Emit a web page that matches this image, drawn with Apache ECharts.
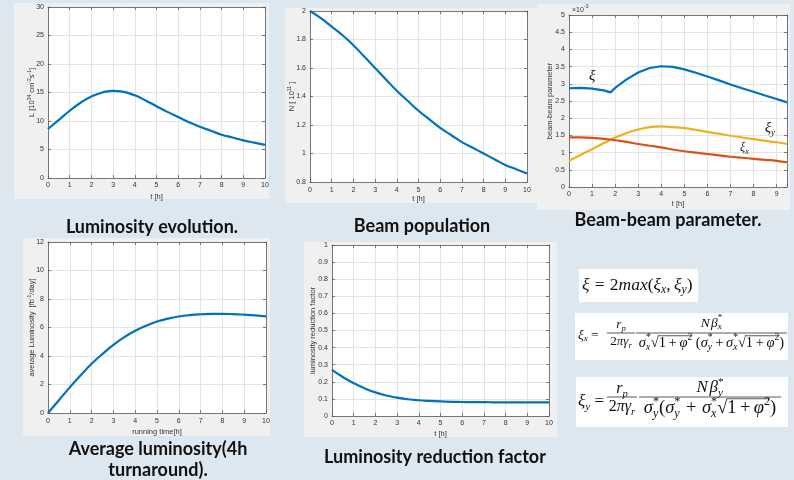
<!DOCTYPE html>
<html><head><meta charset="utf-8">
<script src="https://cdn.jsdelivr.net/npm/echarts@6/dist/echarts.min.js"></script>
<style>html,body{margin:0;padding:0;background:#dde7ef}#c{width:794px;height:480px}</style>
</head><body><div id="c"></div>
<script>
// ---------------- DATA ----------------
const tHours = [0,0.5,1,1.5,2,2.5,3,3.5,4,4.5,5,5.5,6,6.5,7,7.5,8,8.5,9,9.5,10];
const lumValues = [8.6,10.2,11.8,13.2,14.3,15.0,15.3,15.1,14.5,13.6,12.6,11.6,10.7,9.8,9.0,8.3,7.6,7.1,6.6,6.2,5.8];
const beamPopulation = [2.0,1.95,1.89,1.83,1.76,1.68,1.60,1.52,1.44,1.37,1.30,1.24,1.18,1.13,1.08,1.04,1.00,0.96,0.92,0.89,0.86];
const tBeamBeam = [0,0.5,1,1.5,1.8,2,2.5,3,3.5,4,4.5,5,5.5,6,6.5,7,7.5,8,8.5,9,9.45];
const xiTotal = [2.87,2.88,2.86,2.81,2.75,2.88,3.13,3.33,3.46,3.51,3.49,3.42,3.32,3.21,3.10,2.98,2.87,2.77,2.66,2.56,2.46];
const xiX = [1.44,1.44,1.43,1.40,1.38,1.36,1.31,1.25,1.20,1.15,1.09,1.04,1.00,0.96,0.92,0.88,0.85,0.82,0.79,0.76,0.72];
const xiY = [0.76,0.93,1.10,1.27,1.37,1.44,1.57,1.67,1.74,1.76,1.74,1.71,1.66,1.60,1.55,1.49,1.44,1.39,1.34,1.30,1.25];
const avgLum = [0,0.9,1.8,2.65,3.45,4.15,4.78,5.32,5.77,6.12,6.42,6.62,6.77,6.87,6.93,6.96,6.96,6.94,6.9,6.85,6.78];
const reduction = [0.27,0.228,0.192,0.162,0.138,0.12,0.107,0.098,0.092,0.088,0.085,0.083,0.082,0.081,0.081,0.080,0.080,0.080,0.080,0.080,0.080];

const titles = ['Luminosity evolution.','Beam population','Beam-beam parameter.','Average luminosity(4h','turnaround).','Luminosity reduction factor'];

// ---------------- HELPERS ----------------
const SANS = '"Liberation Sans", Arial, sans-serif';
const SERIF = '"Liberation Serif","DejaVu Serif",serif';
const BLUE = '#0072BD', RED = '#D95319', YEL = '#EDB120';
const TXT = '#333';
const mctx = document.createElement('canvas').getContext('2d');
function fnt(size, it){ return (it ? 'italic ' : '') + size.toFixed(2) + 'px ' + SERIF; }
function tw(t, size, it){ mctx.font = fnt(size, it); return mctx.measureText(t).width; }

function layoutTokens(tokens, size){
  const items = [], lines = []; let x = 0;
  for (const tk of tokens){
    if (tk.gap){ x += tk.gap*size; continue; }
    if (tk.sqrt){
      items.push({t:'√', x, dy:0, size, it:false}); x += tw('√', size, false);
      const inner = layoutTokens(tk.sqrt, size);
      inner.items.forEach(o => items.push(Object.assign({}, o, {x:o.x + x})));
      lines.push({x1:x - 0.6, x2:x + inner.width, dy:-size*0.5});
      x += inner.width; continue;
    }
    const it = !tk.n;
    if (tk.t){ items.push({t:tk.t, x, dy:0, size, it}); x += tw(tk.t, size, it); }
    let w = 0; const ss = size*0.66;
    if (tk.sup){ items.push({t:tk.sup, x, dy:-size*0.36, size:ss, it:false}); w = Math.max(w, tw(tk.sup, ss, false)); }
    if (tk.sub){ items.push({t:tk.sub, x, dy:size*0.3, size:ss, it:true}); w = Math.max(w, tw(tk.sub, ss, true)); }
    x += w;
  }
  return {items, lines, width:x};
}
function formula(tokens, size, x0, yMid, align){
  const L = layoutTokens(tokens, size);
  const off = align === 'center' ? x0 - L.width/2 : x0;
  const els = [];
  L.items.forEach(o => els.push({type:'text', z:30, style:{text:o.t, x:off+o.x, y:yMid+o.dy, font:fnt(o.size,o.it), fill:'#111', textAlign:'left', textVerticalAlign:'middle'}}));
  L.lines.forEach(l => els.push({type:'line', z:30, shape:{x1:off+l.x1, y1:yMid+l.dy, x2:off+l.x2, y2:yMid+l.dy}, style:{stroke:'#111', lineWidth:0.7}}));
  return els;
}
function frac(num, den, sizeN, sizeD, xL, xR, yBar, yNum, yDen){
  const c = (xL + xR)/2;
  return [].concat(
    formula(num, sizeN, c, yNum, 'center'),
    formula(den, sizeD, c, yDen, 'center'),
    [{type:'line', z:30, shape:{x1:xL, y1:yBar, x2:xR, y2:yBar}, style:{stroke:'#111', lineWidth:0.7}}]
  );
}

// grids: left, top, width, height
const grids = [
  {left:48, top:7, width:217, height:171},
  {left:310, top:11, width:217, height:171},
  {left:569, top:15, width:218, height:172},
  {left:48, top:242, width:218, height:171},
  {left:332, top:245, width:217, height:171}
];
const lineCol = '#5a5a5a';
const xAxes = [], yAxes = [];
function addX(gi, min, max, interval, name, gap, margin, fmt){
  const tick = {inside:true, length:3, lineStyle:{color:lineCol, width:0.8}};
  xAxes.push({type:'value', gridIndex:gi, min, max, interval, name, nameLocation:'middle', nameGap:gap,
    nameTextStyle:{fontSize:7.5, color:TXT, fontFamily:SANS},
    axisLine:{show:true, onZero:false, lineStyle:{color:lineCol, width:0.8}}, axisTick:tick,
    axisLabel:{fontSize:7, color:TXT, margin, fontFamily:SANS, formatter:fmt || (v => String(v))},
    splitLine:{show:true, lineStyle:{color:'#e4e4e4', width:1}}});
  xAxes.push({type:'value', gridIndex:gi, position:'top', min, max, interval,
    axisLine:{show:true, onZero:false, lineStyle:{color:lineCol, width:0.8}}, axisTick:tick,
    axisLabel:{show:false}, splitLine:{show:false}});
}
function addY(gi, min, max, interval, name, gap, fmt){
  const tick = {inside:true, length:3, lineStyle:{color:lineCol, width:0.8}};
  yAxes.push({type:'value', gridIndex:gi, min, max, interval, name, nameLocation:'middle', nameGap:gap, nameMoveOverlap:false,
    nameTextStyle:{fontSize:7.5, color:TXT, fontFamily:SANS, lineHeight:10,
      rich:{s:{fontSize:5, lineHeight:5, verticalAlign:'top', color:TXT, fontFamily:SANS}}},
    axisLine:{show:true, onZero:false, lineStyle:{color:lineCol, width:0.8}}, axisTick:tick,
    axisLabel:{fontSize:7, color:TXT, margin:4, fontFamily:SANS, formatter:fmt || (v => String(v))},
    splitLine:{show:true, lineStyle:{color:'#e4e4e4', width:1}}});
  yAxes.push({type:'value', gridIndex:gi, position:'right', min, max, interval,
    axisLine:{show:true, onZero:false, lineStyle:{color:lineCol, width:0.8}}, axisTick:tick,
    axisLabel:{show:false}, splitLine:{show:false}});
}
const r1 = v => String(Math.round(v*10)/10);
addX(0, 0, 10, 1, 't [h]', 15, 4); addY(0, 0, 30, 5, 'L [10{s|34} cm{s|-2}s{s|-1}]', 11);
addX(1, 0, 10, 1, 't [h]', 13, 5); addY(1, 0.8, 2, 0.2, 'N [ 10{s|11} ]', 13, r1);
addX(2, 0, 9.45, 1, 't [h]', 13, 4, v => Number.isInteger(v) ? String(v) : ''); addY(2, 0, 5, 0.5, 'beam-beam parameter', 14, r1);
addX(3, 0, 10, 1, 'running time[h]', 15, 5); addY(3, 0, 12, 2, 'average Luminosity  [fb{s|-1}/day]', 11);
addX(4, 0, 10, 1, 't [h]', 14, 4); addY(4, 0, 1, 0.1, 'luminosity reduction factor', 14, r1);

function ser(gi, xs, ys, color, smooth){
  return {type:'line', xAxisIndex:2*gi, yAxisIndex:2*gi, data:xs.map((t,i)=>[t, ys[i]]),
    showSymbol:false, smooth:smooth, lineStyle:{color, width:2.2}, itemStyle:{color}, z:5, silent:true};
}
const series = [
  ser(0, tHours, lumValues, BLUE, 0.5),
  ser(1, tHours, beamPopulation, BLUE, 0.5),
  ser(2, tBeamBeam, xiY, YEL, 0.5),
  ser(2, tBeamBeam, xiX, RED, 0.5),
  ser(2, tBeamBeam, xiTotal, BLUE, false),
  ser(3, tHours, avgLum, BLUE, 0.5),
  ser(4, tHours, reduction, BLUE, 0.5)
];

// ---------------- GRAPHICS ----------------
const G = [];
const panels = [[14,3,255,196],[285,8,253,195],[537,4,253,206],[23,238,247,198],[304,242,253,195]];
panels.forEach(p => G.push({type:'rect', z:-10, shape:{x:p[0], y:p[1], width:p[2], height:p[3]}, style:{fill:'#f0f0f0'}}));
const TF = 'bold 18px Lato, "Open Sans", sans-serif';
[[titles[0],152,227],[titles[1],422,226],[titles[2],668,220],[titles[3],158,449],[titles[4],158,470],[titles[5],435,457]]
  .forEach(a => G.push({type:'text', z:30, style:{text:a[0], x:a[1], y:a[2], font:TF, fill:'#111', textAlign:'center', textVerticalAlign:'middle'}}));

// x10^-3 multiplier
G.push({type:'text', z:30, style:{text:'×10', x:572, y:10, font:'7px '+SANS, fill:TXT, textAlign:'left', textVerticalAlign:'middle'}});
G.push({type:'text', z:30, style:{text:'-3', x:584, y:7, font:'5px '+SANS, fill:TXT, textAlign:'left', textVerticalAlign:'middle'}});
// curve annotations
G.push(...formula([{t:'ξ'}], 15, 589, 76, 'left'));
G.push(...formula([{t:'ξ', sub:'y'}], 14, 765, 128, 'left'));
G.push(...formula([{t:'ξ', sub:'x'}], 12, 740, 148, 'left'));

// formula boxes
[[579,269,119,33],[575,313,213,47],[576,377,212,50]].forEach(b =>
  G.push({type:'rect', z:20, shape:{x:b[0], y:b[1], width:b[2], height:b[3]}, style:{fill:'#fff'}}));

G.push(...formula([{t:'ξ'},{gap:0.3},{t:'=', n:1},{gap:0.3},{t:'2', n:1},{t:'max'},{t:'(', n:1},{t:'ξ', sub:'x'},{t:',', n:1},{gap:0.2},{t:'ξ', sub:'y'},{t:')', n:1}], 17.5, 582, 285, 'left'));

const sq = [{t:'1', n:1},{gap:0.18},{t:'+', n:1},{gap:0.18},{t:'φ', sup:'2'}];
// xi_x
G.push(...formula([{t:'ξ', sub:'x'},{gap:0.25},{t:'=', n:1}], 13.5, 578, 335, 'left'));
G.push(...frac([{t:'r', sub:'p'}], [{t:'2', n:1},{t:'πγ', sub:'r'}], 13, 13, 607, 635, 333, 325, 342));
G.push(...frac([{t:'N'},{gap:0.1},{t:'β', sup:'*', sub:'x'}],
  [{t:'σ', sup:'*', sub:'x'},{sqrt:sq},{gap:0.25},{t:'(', n:1},{t:'σ', sup:'*', sub:'y'},{gap:0.18},{t:'+', n:1},{gap:0.18},{t:'σ', sup:'*', sub:'x'},{sqrt:sq},{t:')', n:1}],
  13.5, 14.5, 636, 787, 333, 323, 343));
// xi_y
G.push(...formula([{t:'ξ', sub:'y'},{gap:0.25},{t:'=', n:1}], 17, 578, 402, 'left'));
G.push(...frac([{t:'r', sub:'p'}], [{t:'2', n:1},{t:'πγ', sub:'r'}], 16, 16, 607, 637, 397, 389, 407));
G.push(...frac([{t:'N'},{gap:0.1},{t:'β', sup:'*', sub:'y'}],
  [{t:'σ', sup:'*', sub:'y'},{t:'(', n:1},{t:'σ', sup:'*', sub:'y'},{gap:0.3},{t:'+', n:1},{gap:0.3},{t:'σ', sup:'*', sub:'x'},{sqrt:sq},{t:')', n:1}],
  17, 18.5, 639, 781, 397, 388, 408));

const chart = echarts.init(document.getElementById('c'), null, {renderer:'canvas'});
chart.setOption({
  backgroundColor:'#dde7ef',
  animation:false,
  grid: grids.map(g => Object.assign({show:true, backgroundColor:'#fff', borderWidth:0, containLabel:false}, g)),
  xAxis: xAxes, yAxis: yAxes, series, graphic:{elements:G}
});
</script></body></html>
